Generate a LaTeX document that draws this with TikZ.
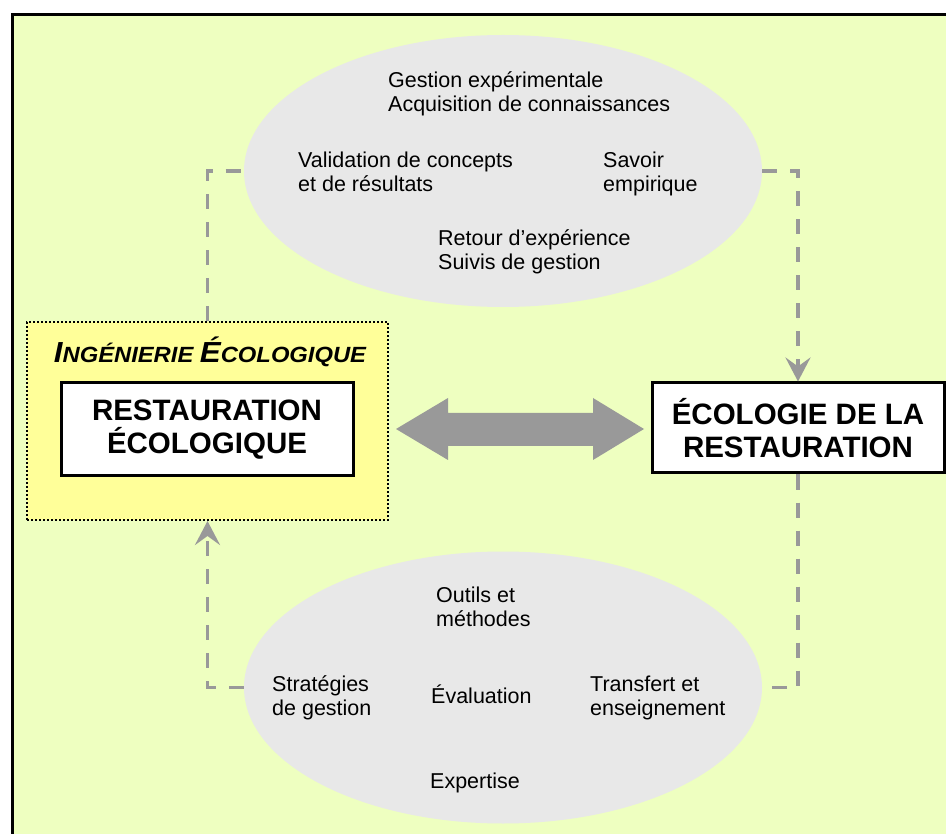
\documentclass[tikz,border=0pt]{standalone}
\usepackage{fontspec}
\setmainfont{Liberation Sans}
\usepackage{tikz}
\usetikzlibrary{shapes.geometric,arrows.meta}

\definecolor{pagegreen}{HTML}{EEFFC0}
\definecolor{ovalgray}{HTML}{E8E8E8}
\definecolor{linegray}{HTML}{999999}
\definecolor{boxyellow}{HTML}{FFFF99}

\newcommand{\capsbig}[1]{{\fontsize{29}{29}\selectfont #1}}

\tikzset{
  oval/.style={ellipse, fill=ovalgray, minimum width=518pt, minimum height=272pt, inner sep=0pt},
  item/.style={anchor=base west, align=left, inner sep=0pt, font=\fontsize{21.5}{24}\selectfont},
  mainbox/.style={draw, fill=white, line width=3pt, minimum width=292pt, minimum height=93pt,
    align=center, inner sep=0pt, font=\fontsize{29.5}{33}\selectfont\bfseries},
  flow/.style={draw=linegray, line width=3.5pt, dash pattern=on 15pt off 13pt},
  flowtip/.style={-{Stealth[length=24pt,width=25pt,inset=9pt]}}
}

\begin{document}
\begin{tikzpicture}[x=1pt, y=-1pt]
        \useasboundingbox (0,0) rectangle (946,834);
        \clip (0,0) rectangle (946,834);
        \draw[line width=3pt, fill=pagegreen] (12,14.5) rectangle (990,880);

        % the two ovals
        \node[oval] (topoval) at (503,171) {};
        \node[oval] (botoval) at (503,687.5) {};

        % (base = last line)
        \node[item] (gestion) at (388,112) {Gestion expérimentale\\Acquisition de connaissances};
        \node[item] (validation) at (298,192) {Validation de concepts\\et de résultats};
        \node[item] (savoir) at (603,192) {Savoir\\empirique};
        \node[item] (retour) at (438,270) {Retour d’expérience\\Suivis de gestion};

        \node[item] (outils) at (436,626) {Outils et\\méthodes};
        \node[item] (strategies) at (272,715) {Stratégies\\de gestion};
        \node[item] (evaluation) at (431,703) {Évaluation};
        \node[item] (transfert) at (590,715) {Transfert et\\enseignement};
        \node[item] (expertise) at (430,788) {Expertise};

        % boxes
        \node[draw, line width=2pt, dash pattern=on 2pt off 2pt, fill=boxyellow,
          minimum width=361pt, minimum height=198pt] (ingbox) at (207.5,421) {};
        \node[anchor=base, inner sep=0pt, font=\fontsize{22}{22}\selectfont\bfseries\itshape]
          (ingtitle) at (210,363) {\scalebox{1.08}[1]{\capsbig{I}NGÉNIERIE \capsbig{É}COLOGIQUE}};
        \node[mainbox] (restbox) at (207,429.5) {RESTAURATION\\ÉCOLOGIQUE};
        \node[mainbox, minimum height=90pt] (ecobox) at (798,428) {ÉCOLOGIE DE LA\\RESTAURATION};

        % big double arrow
        \fill[linegray] (396,429) -- (448,398) -- (448,413) -- (593,413) -- (593,398) -- (644,429)
          -- (593,460) -- (593,446) -- (448,446) -- (448,460) -- cycle;

        % dashed loop
        \draw[flow] (ingbox.north) |- (topoval.west);
        \draw[flow, flowtip] (topoval.east) -| (ecobox.north);
        \draw[flow] (ecobox.south) |- (botoval.east);
        \draw[flow, flowtip] (botoval.west) -| (ingbox.south);
\end{tikzpicture}
\end{document}
